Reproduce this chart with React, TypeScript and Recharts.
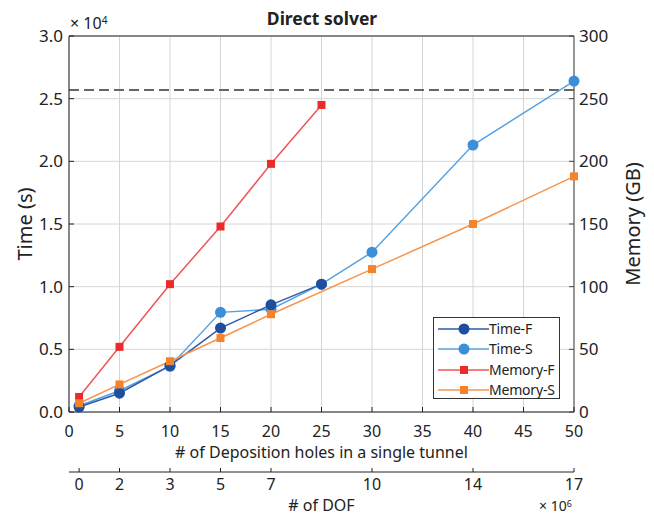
import React from 'react';
import { ComposedChart, Line, XAxis, YAxis, CartesianGrid, ReferenceLine } from 'recharts';

const FONT = "'Noto Sans', sans-serif";

// # of deposition holes in a single tunnel
const holes = [1, 5, 10, 15, 20, 25, 30, 40, 50];
// time in seconds
const timeF = [400, 1500, 3700, 6700, 8550, 10200, null, null, null];
const timeS = [500, 1700, 3650, 7950, 8200, 10200, 12750, 21300, 26400];
// memory in GB
const memF = [12, 52, 102, 148, 198, 245, null, null, null];
const memS = [7, 22, 40.5, 59, 78, null, 114, 150, 188];

const holeTicks = [0, 5, 10, 15, 20, 25, 30, 35, 40, 45, 50];
const timeTicks = [0, 5000, 10000, 15000, 20000, 25000, 30000];
const memTicks = [0, 50, 100, 150, 200, 250, 300];
const dofTickPositions = [1, 5, 10, 15, 20, 30, 40, 50];
const dofTickLabels = ['0', '2', '3', '5', '7', '10', '14', '17'];
const memLimit = 257;

const data = holes.map((h, i) => ({
  holes: h,
  timeF: timeF[i],
  timeS: timeS[i],
  memF: memF[i],
  memS: memS[i],
}));

const C = {
  timeFLine: '#2f5aa8',
  timeFDot: '#1f4e9e',
  timeSLine: '#55a2e2',
  timeSDot: '#3b8fd8',
  memFLine: '#f25555',
  memFDot: '#ec2a2a',
  memSLine: '#f7944c',
  memSDot: '#f5832a',
};

const MAIN = 'a_holes';
const DOF = 'b_dof';

const BottomTick = (props: any) => {
  const { x, y, payload } = props;
  return (
    <g>
      <line x1={x} x2={x} y1={y} y2={y - 5} stroke="#222" />
      <text x={x} y={y + 25} textAnchor="middle" fontSize={16} fill="#222" fontFamily={FONT}>
        {payload.value}
      </text>
    </g>
  );
};

const DofTick = (props: any) => {
  const { x, y, payload } = props;
  const idx = dofTickPositions.indexOf(payload.value);
  return (
    <g>
      <line x1={x} x2={x} y1={y} y2={y - 4} stroke="#222" />
      <text x={x} y={y + 18} textAnchor="middle" fontSize={16} fill="#222" fontFamily={FONT}>
        {idx >= 0 ? dofTickLabels[idx] : ''}
      </text>
    </g>
  );
};

const LeftTick = (props: any) => {
  const { x, y, payload } = props;
  return (
    <g>
      <line x1={x} x2={x + 5} y1={y} y2={y} stroke="#222" />
      <text x={x - 6} y={y + 6} textAnchor="end" fontSize={17} fill="#222" fontFamily={FONT}>
        {(payload.value / 10000).toFixed(1)}
      </text>
    </g>
  );
};

const RightTick = (props: any) => {
  const { x, y, payload } = props;
  return (
    <g>
      <line x1={x} x2={x - 5} y1={y} y2={y} stroke="#444" />
      <text x={x + 5} y={y + 6} textAnchor="start" fontSize={17} fill="#222" fontFamily={FONT}>
        {payload.value}
      </text>
    </g>
  );
};

const circleDot = (fill: string) => (props: any) => {
  const { cx, cy, index, value } = props;
  if (cx == null || cy == null || value == null || Number.isNaN(cy)) return <g key={`c${index}`} />;
  return <circle key={`c${index}`} cx={cx} cy={cy} r={5.5} fill={fill} />;
};

const squareDot = (fill: string) => (props: any) => {
  const { cx, cy, index, value } = props;
  if (cx == null || cy == null || value == null || Number.isNaN(cy)) return <g key={`s${index}`} />;
  return <rect key={`s${index}`} x={cx - 4} y={cy - 4} width={8} height={8} fill={fill} />;
};

const AxisLabel = (text: string, kind: 'bottom' | 'dof' | 'left' | 'right') => (props: any) => {
  const vb = props.viewBox || {};
  if (kind === 'bottom') {
    return (
      <text x={vb.x + vb.width / 2} y={vb.y + 46} textAnchor="middle" fontSize={16} fill="#222" fontFamily={FONT}>
        {text}
      </text>
    );
  }
  if (kind === 'dof') {
    return (
      <text x={vb.x + vb.width / 2} y={vb.y + 39} textAnchor="middle" fontSize={16} fill="#222" fontFamily={FONT}>
        {text}
      </text>
    );
  }
  const cy = vb.y + vb.height / 2;
  const cx = kind === 'left' ? 24 : 632;
  return (
    <text
      x={cx}
      y={cy}
      textAnchor="middle"
      dominantBaseline="central"
      fontSize={20}
      fill="#222"
      fontFamily={FONT}
      transform={`rotate(-90 ${cx} ${cy})`}
    >
      {text}
    </text>
  );
};

const legendItems = [
  { name: 'Time-F', line: C.timeFLine, dot: C.timeFDot, shape: 'circle' },
  { name: 'Time-S', line: C.timeSLine, dot: C.timeSDot, shape: 'circle' },
  { name: 'Memory-F', line: C.memFLine, dot: C.memFDot, shape: 'square' },
  { name: 'Memory-S', line: C.memSLine, dot: C.memSDot, shape: 'square' },
];

export default function App() {
  return (
    <div style={{ position: 'absolute', left: 0, top: 0, width: 654, height: 515, fontFamily: FONT, background: '#fff' }}>
      <ComposedChart width={654} height={515} data={data} margin={{ top: 36, right: 0, bottom: 0, left: 0 }}>
        <CartesianGrid xAxisId={MAIN} yAxisId="time" stroke="#d6d6d6" strokeWidth={1} />
        <XAxis
          xAxisId={MAIN}
          dataKey="holes"
          type="number"
          domain={[0, 50]}
          ticks={holeTicks}
          interval={0}
          height={60}
          tickSize={0}
          tickMargin={0}
          tickLine={false}
          tick={<BottomTick />}
          axisLine={{ stroke: '#222' }}
          label={{ content: AxisLabel('# of Deposition holes in a single tunnel', 'bottom') }}
        />
        <XAxis
          xAxisId={DOF}
          dataKey="holes"
          type="number"
          domain={[0, 50]}
          ticks={dofTickPositions}
          interval={0}
          height={43}
          tickSize={0}
          tickMargin={0}
          tickLine={false}
          tick={<DofTick />}
          axisLine={{ stroke: '#222' }}
          label={{ content: AxisLabel('# of DOF', 'dof') }}
        />
        <YAxis
          yAxisId="time"
          type="number"
          domain={[0, 30000]}
          ticks={timeTicks}
          interval={0}
          width={69}
          tickSize={0}
          tickMargin={0}
          tickLine={false}
          tick={<LeftTick />}
          axisLine={{ stroke: '#222' }}
          label={{ content: AxisLabel('Time (s)', 'left') }}
        />
        <YAxis
          yAxisId="mem"
          orientation="right"
          type="number"
          domain={[0, 300]}
          ticks={memTicks}
          interval={0}
          width={80}
          tickSize={0}
          tickMargin={0}
          tickLine={false}
          tick={<RightTick />}
          axisLine={{ stroke: '#444' }}
          label={{ content: AxisLabel('Memory (GB)', 'right') }}
        />
        <ReferenceLine xAxisId={MAIN} yAxisId="time" y={30000} stroke="#222" strokeWidth={1} />
        <ReferenceLine xAxisId={MAIN} yAxisId="mem" y={memLimit} stroke="#666" strokeWidth={2} strokeDasharray="10 5" />
        <Line
          xAxisId={MAIN}
          yAxisId="time"
          dataKey="timeS"
          stroke={C.timeSLine}
          strokeWidth={1.5}
          dot={circleDot(C.timeSDot)}
          activeDot={false}
          isAnimationActive={false}
          connectNulls
        />
        <Line
          xAxisId={MAIN}
          yAxisId="time"
          dataKey="timeF"
          stroke={C.timeFLine}
          strokeWidth={1.5}
          dot={circleDot(C.timeFDot)}
          activeDot={false}
          isAnimationActive={false}
        />
        <Line
          xAxisId={MAIN}
          yAxisId="mem"
          dataKey="memF"
          stroke={C.memFLine}
          strokeWidth={1.5}
          dot={squareDot(C.memFDot)}
          activeDot={false}
          isAnimationActive={false}
        />
        <Line
          xAxisId={MAIN}
          yAxisId="mem"
          dataKey="memS"
          stroke={C.memSLine}
          strokeWidth={1.5}
          dot={squareDot(C.memSDot)}
          activeDot={false}
          isAnimationActive={false}
          connectNulls
        />
      </ComposedChart>

      <div style={{ position: 'absolute', left: 0, width: 644, top: 6, textAlign: 'center', fontWeight: 700, fontSize: 17.5, color: '#222', lineHeight: '24px' }}>
        Direct solver
      </div>
      <div style={{ position: 'absolute', left: 70, top: 13, fontSize: 16, color: '#222', lineHeight: '20px', whiteSpace: 'nowrap' }}>
        × 10<sup style={{ fontSize: 10, verticalAlign: 'top', position: 'relative', top: -3 }}>4</sup>
      </div>
      <div style={{ position: 'absolute', left: 539, top: 498, fontSize: 14, color: '#222', lineHeight: '16px', whiteSpace: 'nowrap' }}>
        × 10<sup style={{ fontSize: 9, verticalAlign: 'top', position: 'relative', top: -2 }}>6</sup>
      </div>

      <div
        style={{
          position: 'absolute',
          left: 433,
          top: 317,
          width: 125,
          height: 80,
          border: '1px solid #333',
          background: '#fff',
          boxSizing: 'content-box',
        }}
      >
        {legendItems.map((it, i) => (
          <div key={it.name} style={{ position: 'absolute', left: 0, top: 1 + i * 20.3, height: 20, width: 125 }}>
            <svg width={56} height={20} style={{ position: 'absolute', left: 3, top: 0 }}>
              <line x1={1} x2={52} y1={10} y2={10} stroke={it.line} strokeWidth={1.5} />
              {it.shape === 'circle' ? (
                <circle cx={27} cy={10} r={5.5} fill={it.dot} />
              ) : (
                <rect x={23} y={6} width={8} height={8} fill={it.dot} />
              )}
            </svg>
            <span style={{ position: 'absolute', left: 55, top: 0, fontSize: 14, letterSpacing: -0.2, lineHeight: '20px', color: '#222', whiteSpace: 'nowrap' }}>
              {it.name}
            </span>
          </div>
        ))}
      </div>
    </div>
  );
}
